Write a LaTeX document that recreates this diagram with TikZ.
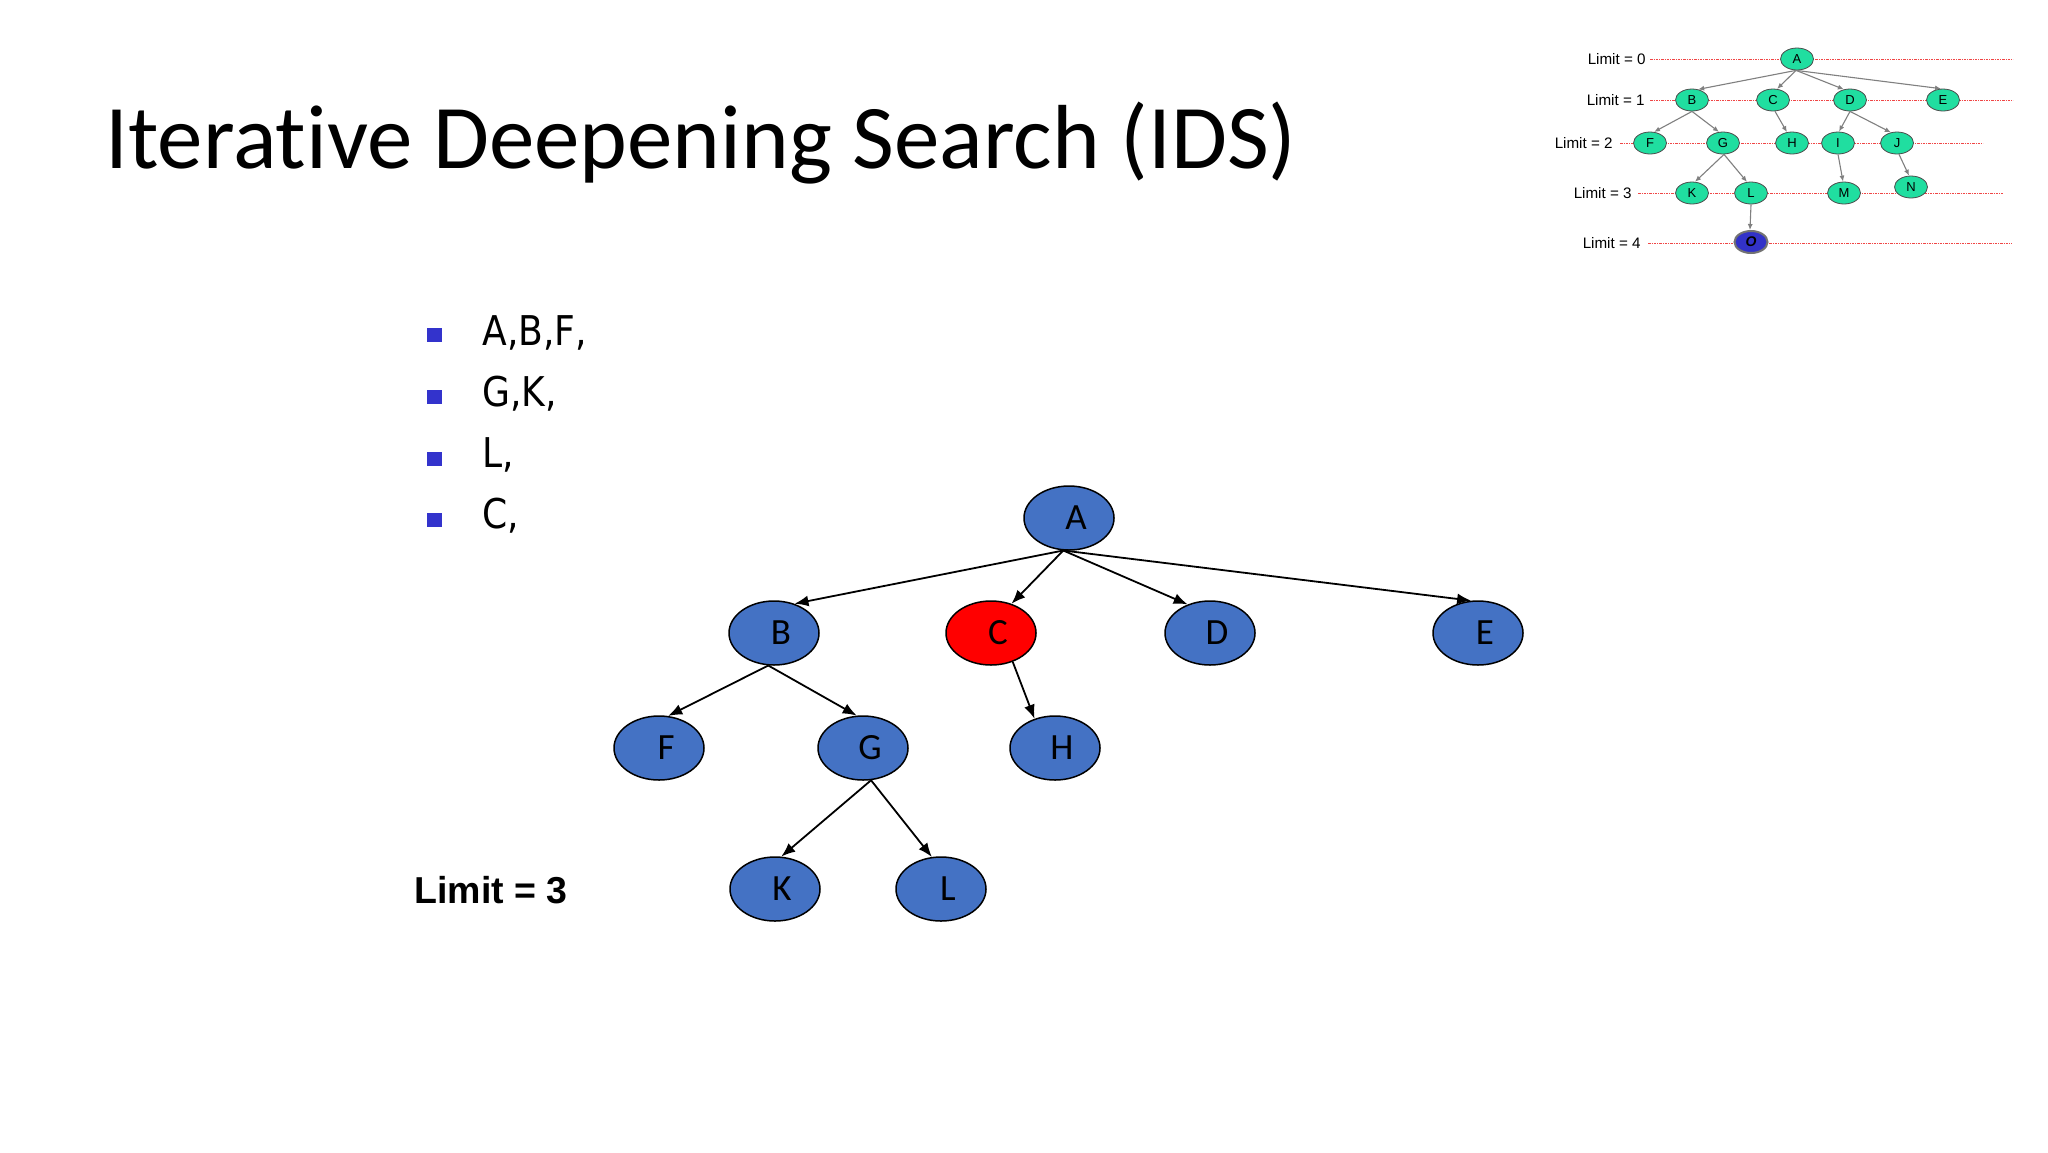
\documentclass[tikz,border=0pt]{standalone}
\usepackage{fontspec}
\setmainfont[Ligatures=NoCommon]{Carlito}
\newfontfamily\bulletfont[FakeStretch=0.88]{DejaVu Sans}
\newfontfamily\arialfont{Liberation Sans}
\usetikzlibrary{shapes.geometric,arrows.meta}
\definecolor{nodeblue}{RGB}{68,114,196}
\definecolor{bulletblue}{RGB}{51,51,204}
\definecolor{insetgreen}{RGB}{32,222,160}
\definecolor{insetdark}{RGB}{50,50,200}
\definecolor{limitred}{RGB}{240,70,70}
\newcommand{\tlab}[1]{\kern7pt #1}
\begin{document}
\begin{tikzpicture}[x=0.5pt,y=-0.5pt,
  treenode/.style={ellipse,draw=black,line width=0.75pt,fill=nodeblue,
    minimum width=45pt,minimum height=32pt,inner sep=0pt,
    font=\fontsize{18.5}{20}\selectfont},
  rednode/.style={treenode,fill=red},
  treeedge/.style={-{Latex[length=7pt,width=5.5pt]},line width=0.9pt},
  bulletsq/.style={rectangle,fill=bulletblue,minimum width=7.5pt,minimum height=7pt,inner sep=0pt},
  bullettext/.style={anchor=base west,inner sep=0pt,font=\bulletfont\fontsize{20.5}{24}\selectfont},
  insetnode/.style={ellipse,draw=black!70,line width=0.4pt,fill=insetgreen,
    minimum width=16.5pt,minimum height=11pt,inner sep=0pt,
    font=\arialfont\fontsize{6.5}{7}\selectfont},
  insetgoal/.style={insetnode,fill=insetdark,draw=black!55,line width=1pt,
    font=\arialfont\bfseries\itshape\fontsize{7}{8}\selectfont},
  insetedge/.style={-{Latex[length=3pt,width=2.5pt]},draw=black!50,line width=0.55pt},
  limitline/.style={draw=limitred,line width=0.5pt,dash pattern=on 1.25pt off 0.6pt on 0.3pt off 0.6pt},
  limittext/.style={anchor=east,inner sep=0pt,font=\arialfont\fontsize{7.6}{9}\selectfont}
]
\fill[white] (0,0) rectangle (2048,1152);
\useasboundingbox (0,0) rectangle (2048,1152);

% Title
\node[anchor=base west,inner sep=0pt,font=\fontsize{45.5}{52}\selectfont] (title) at (105,168)
  {Iterative Deepening Search (IDS)};

% Bullets
\node[bulletsq] (b1) at (434.5,335) {};
\node[bulletsq] (b2) at (434.5,396.5) {};
\node[bulletsq] (b3) at (434.5,458.5) {};
\node[bulletsq] (b4) at (434.5,519.5) {};
\node[bullettext] (t1) at (482,345) {A,B,F,};
\node[bullettext] (t2) at (482,406) {G,K,};
\node[bullettext] (t3) at (482,467) {L,};
\node[bullettext] (t4) at (482,528) {C,};

% Limit label
\node[anchor=base west,inner sep=0pt,font=\arialfont\bfseries\fontsize{18.75}{22}\selectfont] (limit) at (414,903) {Limit = 3};

% Main tree
\node[treenode] (A) at (1069,518) {\tlab{A}};
\node[treenode] (B) at (774,633) {\tlab{B}};
\node[rednode]  (C) at (991,633) {\tlab{C}};
\node[treenode] (D) at (1210,633) {\tlab{D}};
\node[treenode] (E) at (1478,633) {\tlab{E}};
\node[treenode] (F) at (659,748) {\tlab{F}};
\node[treenode] (G) at (863,748) {\tlab{G}};
\node[treenode] (H) at (1055,748) {\tlab{H}};
\node[treenode] (K) at (775,889) {\tlab{K}};
\node[treenode] (L) at (941,889) {\tlab{L}};

\draw[treeedge] (A.-100) -- (B.55);
\draw[treeedge] (A.-100) -- (C.55);
\draw[treeedge] (A.-100) -- (D.128);
\draw[treeedge] (A.-100) -- (E.102);
\draw[treeedge] (B.-100) -- (F.74);
\draw[treeedge] (B.-100) -- (G.101);
\draw[treeedge] (C.-53) -- (H.125);
\draw[treeedge] (G.-76) -- (K.79);
\draw[treeedge] (G.-76) -- (L.106);

% Inset
\coordinate (l0a) at (1650,59);  \coordinate (l0b) at (2013,59);
\coordinate (l1a) at (1650,100); \coordinate (l1b) at (2013,100);
\coordinate (l2a) at (1620,143); \coordinate (l2b) at (1983,143);
\coordinate (l3a) at (1638,193); \coordinate (l3b) at (2003,193);
\coordinate (l4a) at (1648,243); \coordinate (l4b) at (2012,243);
\draw[limitline] (l0a) -- (l0b);
\draw[limitline] (l1a) -- (l1b);
\draw[limitline] (l2a) -- (l2b);
\draw[limitline] (l3a) -- (l3b);
\draw[limitline] (l4a) -- (l4b);
\node[limittext] (lt0) at (1646,59) {Limit = 0};
\node[limittext] (lt1) at (1645,100) {Limit = 1};
\node[limittext] (lt2) at (1613,143) {Limit = 2};
\node[limittext] (lt3) at (1632,193) {Limit = 3};
\node[limittext] (lt4) at (1641,243) {Limit = 4};

\node[insetnode] (pA) at (1797,59) {A};
\node[insetnode] (pB) at (1692,100) {B};
\node[insetnode] (pC) at (1773,100) {C};
\node[insetnode] (pD) at (1850,100) {D};
\node[insetnode] (pE) at (1943,100) {E};
\node[insetnode] (pF) at (1650,143) {F};
\node[insetnode] (pG) at (1723,143) {G};
\node[insetnode] (pH) at (1792,143) {H};
\node[insetnode] (pI) at (1838,143) {I};
\node[insetnode] (pJ) at (1897,143) {J};
\node[insetnode] (pK) at (1692,193) {K};
\node[insetnode] (pL) at (1751,193) {L};
\node[insetnode] (pM) at (1844,193) {M};
\node[insetnode] (pN) at (1911,187) {N};
\node[insetgoal] (pO) at (1751,242) {O};

\draw[insetedge] (pA.-95) -- (pB.60);
\draw[insetedge] (pA.-95) -- (pC.70);
\draw[insetedge] (pA.-95) -- (pD.120);
\draw[insetedge] (pA.-95) -- (pE.100);
\draw[insetedge] (pB.-90) -- (pF.70);
\draw[insetedge] (pB.-90) -- (pG.110);
\draw[insetedge] (pC.-80) -- (pH.115);
\draw[insetedge] (pD.-90) -- (pI.85);
\draw[insetedge] (pD.-90) -- (pJ.120);
\draw[insetedge] (pG.-85) -- (pK.75);
\draw[insetedge] (pG.-85) -- (pL.110);
\draw[insetedge] (pI.-90) -- (pM.95);
\draw[insetedge] (pJ.-80) -- (pN.100);
\draw[insetedge] (pL.-90) -- (pO.95);
\end{tikzpicture}
\end{document}
